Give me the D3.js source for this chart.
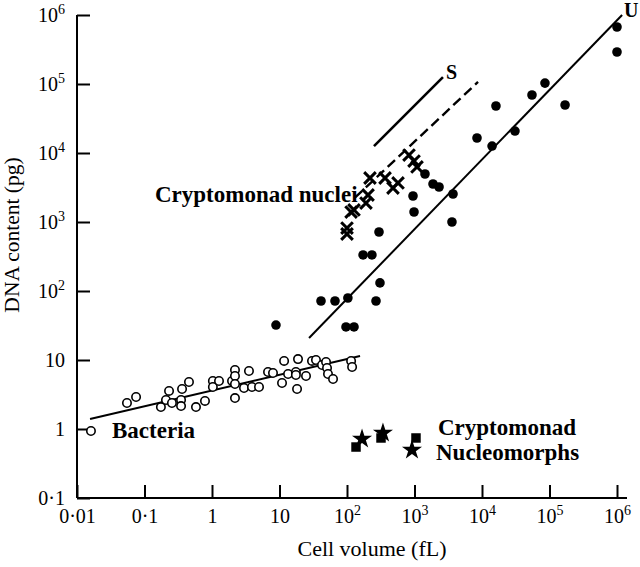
<!DOCTYPE html>
<html>
<head>
<meta charset="utf-8">
<script src="https://cdn.jsdelivr.net/npm/d3@7"></script>
<style>
  html, body { margin: 0; padding: 0; background: #fff; }
  svg text { font-family: "Liberation Serif", "Times New Roman", serif; fill: #000; }
</style>
</head>
<body>
<svg id="chart" width="640" height="567"></svg>
<script>
// ---------- DATA ----------
// Bacteria (open circles): cell volume (fL), DNA content (pg)
const bacteriaVol = [0.0161, 0.055, 0.075, 0.175, 0.208, 0.231, 0.255, 0.348, 0.348, 0.36, 0.456, 0.579, 0.787,
  1.03, 1.03, 1.27, 1.98, 2.19, 2.19, 2.19, 2.19, 2.98, 3.53, 3.91, 4.97, 6.76, 8.01, 10.9, 11.7, 13.4,
  17.5, 17.5, 18.2, 18.8, 24.7, 30.3, 34.7, 42.6, 48.9, 50.6, 52.3, 62.1, 115, 119];
const bacteriaDNA = [0.935, 2.38, 2.91, 2.08, 2.63, 3.56, 2.38, 2.63, 2.15, 3.8, 4.8, 2.08, 2.55,
  4.96, 4.06, 4.96, 4.96, 7.16, 5.86, 4.49, 2.81, 3.93, 6.93, 4.06, 4.06, 6.7, 6.48, 4.64, 9.68, 6.27,
  6.7, 6.06, 3.8, 10.3, 5.86, 9.68, 10, 8.47, 9.35, 7.66, 6.27, 5.3, 9.68, 7.92];

// Eukaryotes (filled circles)
const eukVol = [8.87, 41.2, 66.4, 103, 96.6, 127, 173, 234, 298, 308, 269, 950, 984, 1430, 1880, 2310,
  3720, 3590, 8430, 14100, 30800, 16100, 55000, 85700, 170000, 1000000, 1000000];
const eukDNA = [32.1, 71.6, 71.6, 79.2, 30.1, 30.1, 333, 333, 716, 131, 71.6, 2380, 1396, 4960, 3556, 3216,
  2547, 1000, 16500, 12600, 20800, 48000, 69300, 103000, 49600, 670000, 291000];

// Cryptomonad nuclei (crosses)
const nucleiVol = [100, 100, 115, 127, 191, 205, 219, 366, 480, 570, 829, 984, 1089];
const nucleiDNA = [818, 670, 1396, 1493, 1885, 2462, 4342, 4342, 3110, 3675, 9350, 7650, 6270];

// Cryptomonad nucleomorphs (squares and stars)
const nmSquareVol = [136, 319, 1052];
const nmSquareDNA = [0.548, 0.741, 0.741];
const nmStarVol = [167, 341, 918];
const nmStarDNA = [0.716, 0.875, 0.497];

// Fitted / guide lines (end points)
const bacteriaFitVol = [0.0156, 156];
const bacteriaFitDNA = [1.40, 11.4];
const uFitVol = [27.4, 1.19e6];
const uFitDNA = [20.8, 1e6];
const sSolidVol = [251, 2640];
const sSolidDNA = [12600, 126000];
const sDashVol = [131, 8730];
const sDashDNA = [2250, 107000];

// Ticks
const xTickValues = [0.01, 0.1, 1, 10, 100, 1e3, 1e4, 1e5, 1e6];
const xTickBase = ["0·01", "0·1", "1", "10", "10", "10", "10", "10", "10"];
const xTickExp = ["", "", "", "", "2", "3", "4", "5", "6"];
const yTickValues = [0.1, 1, 10, 100, 1e3, 1e4, 1e5, 1e6];
const yTickBase = ["0·1", "1", "10", "10", "10", "10", "10", "10"];
const yTickExp = ["", "", "", "2", "3", "4", "5", "6"];

// ---------- CHART ----------
const svg = d3.select("#chart");
const x = d3.scaleLog().domain([0.01, 1e6]).range([77, 617]);
const y = d3.scaleLog().domain([0.1, 1e6]).range([498, 15]);

const tickFont = 20, supFont = 14;

function addLabel(textSel, bases, exps) {
  textSel.each(function(d, i) {
    const t = d3.select(this);
    t.text(null);
    t.append("tspan").text(bases[i]);
    if (exps[i]) {
      t.append("tspan").attr("font-size", supFont).attr("dy", "-0.55em").text(exps[i]);
    }
  });
}

// X axis
const xAxis = d3.axisBottom(x).tickValues(xTickValues).tickSizeInner(-13).tickSizeOuter(0).tickPadding(0);
const gx = svg.append("g").attr("transform", `translate(0,${y.range()[0]})`).call(xAxis);
gx.select(".domain").remove();
gx.append("line").attr("x1", x.range()[0]).attr("x2", x.range()[1] + 10).attr("y1", 0).attr("y2", 0)
  .attr("stroke", "#000").attr("stroke-width", 2);
gx.selectAll(".tick line").attr("stroke", "#000").attr("stroke-width", 2);
gx.selectAll(".tick text").attr("font-size", tickFont).attr("y", 25).attr("dy", 0)
  .attr("font-family", '"Liberation Serif", "Times New Roman", serif').attr("fill", "#000")
  .call(addLabel, xTickBase, xTickExp);

// Y axis
const yAxis = d3.axisLeft(y).tickValues(yTickValues).tickSizeInner(-13).tickSizeOuter(0).tickPadding(12);
const gy = svg.append("g").attr("transform", `translate(${x.range()[0]},0)`).call(yAxis);
gy.select(".domain").remove();
gy.append("line").attr("x1", 0).attr("x2", 0).attr("y1", y.range()[1]).attr("y2", y.range()[0])
  .attr("stroke", "#000").attr("stroke-width", 2);
gy.selectAll(".tick line").attr("stroke", "#000").attr("stroke-width", 2);
gy.selectAll(".tick text").attr("font-size", tickFont).attr("dy", "0.32em")
  .attr("font-family", '"Liberation Serif", "Times New Roman", serif').attr("fill", "#000")
  .call(addLabel, yTickBase, yTickExp);

// Axis titles
svg.append("text").attr("x", 372).attr("y", 556).attr("text-anchor", "middle")
  .attr("font-size", 22).text("Cell volume (fL)");
svg.append("text").attr("transform", "translate(19,235) rotate(-90)").attr("text-anchor", "middle")
  .attr("font-size", 21.5).text("DNA content (pg)");

// Lines
const line = d3.line().x(d => x(d[0])).y(d => y(d[1]));
function drawLine(vols, dnas, width, dash) {
  svg.append("path").datum(d3.zip(vols, dnas)).attr("d", line)
    .attr("fill", "none").attr("stroke", "#000").attr("stroke-width", width)
    .attr("stroke-dasharray", dash || null);
}
drawLine(bacteriaFitVol, bacteriaFitDNA, 2);
drawLine(uFitVol, uFitDNA, 2);
drawLine(sSolidVol, sSolidDNA, 2.6);
drawLine(sDashVol, sDashDNA, 2.4, "10,5");

// Bacteria: open circles
svg.append("g").selectAll("circle").data(d3.zip(bacteriaVol, bacteriaDNA)).join("circle")
  .attr("cx", d => x(d[0])).attr("cy", d => y(d[1])).attr("r", 4.2)
  .attr("fill", "#fff").attr("stroke", "#000").attr("stroke-width", 1.6);

// Eukaryotes: filled circles
svg.append("g").selectAll("circle").data(d3.zip(eukVol, eukDNA)).join("circle")
  .attr("cx", d => x(d[0])).attr("cy", d => y(d[1])).attr("r", 4.8).attr("fill", "#000");

// Cryptomonad nuclei: crosses
svg.append("g").selectAll("path").data(d3.zip(nucleiVol, nucleiDNA)).join("path")
  .attr("transform", d => `translate(${x(d[0])},${y(d[1])})`)
  .attr("d", d3.symbol(d3.symbolTimes, 90))
  .attr("fill", "none").attr("stroke", "#000").attr("stroke-width", 3);

// Nucleomorphs: squares then stars
svg.append("g").selectAll("path").data(d3.zip(nmSquareVol, nmSquareDNA)).join("path")
  .attr("transform", d => `translate(${x(d[0])},${y(d[1])})`)
  .attr("d", d3.symbol(d3.symbolSquare, 90)).attr("fill", "#000");
svg.append("g").selectAll("path").data(d3.zip(nmStarVol, nmStarDNA)).join("path")
  .attr("transform", d => `translate(${x(d[0])},${y(d[1])})`)
  .attr("d", d3.symbol(d3.symbolStar, 125)).attr("fill", "#000");

// Annotations
const ann = [
  { t: "U", x: 624, y: 17, s: 20 },
  { t: "S", x: 446, y: 79, s: 20 },
  { t: "Cryptomonad nuclei", x: 155, y: 202, s: 23 },
  { t: "Bacteria", x: 112, y: 438, s: 23 },
  { t: "Cryptomonad", x: 438, y: 435, s: 23 },
  { t: "Nucleomorphs", x: 436, y: 460, s: 23 }
];
svg.append("g").selectAll("text").data(ann).join("text")
  .attr("x", d => d.x).attr("y", d => d.y).attr("font-size", d => d.s)
  .attr("font-weight", "bold").text(d => d.t);
</script>
</body>
</html>
